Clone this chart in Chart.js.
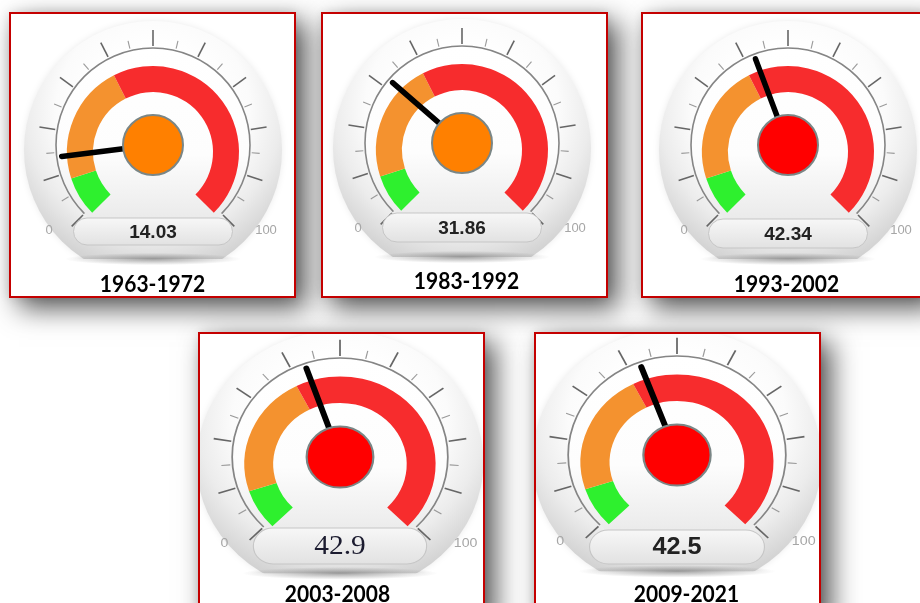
<!DOCTYPE html>
<html><head><meta charset="utf-8">
<script src="https://cdn.jsdelivr.net/npm/chart.js@4.4.1/dist/chart.umd.min.js"></script>
<style>
html,body{margin:0;padding:0;background:#fff;}
body{width:920px;height:603px;overflow:hidden;position:relative;}
.box{position:absolute;width:287px;height:286px;box-sizing:border-box;border:2px solid #c40000;background:#fff;
 box-shadow:10px 10px 26px rgba(0,0,0,0.68), 0 0 10px rgba(0,0,0,0.10);}
.box canvas{position:absolute;left:0;top:0;}
.title{position:absolute;left:0;width:100%;text-align:center;font:700 21px Lato,'Open Sans',sans-serif;color:#000;line-height:1;transform:translateY(-50%) scaleY(1.08);white-space:nowrap;}
</style></head><body>
<script>
// ---- data ----
const periods = ['1963-1972', '1983-1992', '1993-2002', '2003-2008', '2009-2021'];
const values = [14.03, 31.86, 42.34, 42.9, 42.5];
const valueLabels = ['14.03', '31.86', '42.34', '42.9', '42.5'];
const bandEdges = [0, 10, 40, 100];
const bandColors = ['#2ef02e', '#f4922f', '#f72c2d'];
const hubColors = ['#22ee22', '#ff8000', '#ff0000'];
const tickValues = [0, 5, 10, 15, 20, 25, 30, 35, 40, 45, 50, 55, 60, 65, 70, 75, 80, 85, 90, 95, 100];
const scaleLabels = ['0', '100'];

// ---- layout (positions & styles) ----
const layout = [
  {left: 9,   top: 12,  px: 142, py: 131, k: 1,    sx: 1,    vb: [73, 100], font: 'bold 19px "Liberation Sans", Arial', tcol: '#222', ty: 269, tdx: 0},
  {left: 321, top: 12,  px: 139, py: 129, k: 1,    sx: 1,    vb: [70, 99],  font: 'bold 19px "Liberation Sans", Arial', tcol: '#222', ty: 266, tdx: 2},
  {left: 641, top: 12,  px: 145, py: 131, k: 1,    sx: 1,    vb: [74, 103], font: 'bold 19px "Liberation Sans", Arial', tcol: '#222', ty: 269, tdx: 2},
  {left: 198, top: 332, px: 140, py: 123, k: 1.02, sx: 1.09, vb: [71, 107], font: '27px "Liberation Serif", serif',    tcol: '#1c1c30', ty: 259, tdx: -4},
  {left: 534, top: 332, px: 141, py: 121, k: 1.02, sx: 1.1,  vb: [75, 109], font: 'bold 23px "Liberation Sans", Arial', tcol: '#222', ty: 259, tdx: 9}
];
const CW = 283, CH = 282;

function bandSizes() {
  const s = [];
  for (let i = 1; i < bandEdges.length; i++) s.push(bandEdges[i] - bandEdges[i - 1]);
  return s;
}
function zoneOf(v) {
  for (let i = 1; i < bandEdges.length; i++) if (v < bandEdges[i]) return i - 1;
  return bandEdges.length - 2;
}

function makePlugin(i) {
  const L = layout[i];
  const k = L.k;
  function geom(chart) {
    const arcs = chart.getDatasetMeta(0).data;
    const a0 = arcs[0], aN = arcs[arcs.length - 1];
    const min = bandEdges[0], max = bandEdges[bandEdges.length - 1];
    const start = a0.startAngle, end = aN.endAngle;
    return {
      cx: a0.x, cy: a0.y - 7 * k,
      ang: v => start + (v - min) / (max - min) * (end - start),
      start, end
    };
  }
  return {
    id: 'gauge' + i,
    beforeDraw(chart) {
      const ctx = chart.ctx;
      const g = geom(chart);
      ctx.save();
      ctx.translate(g.cx, 0); ctx.scale(L.sx, 1); ctx.translate(-g.cx, 0);
      // sphere background
      ctx.save();
      ctx.beginPath();
      ctx.rect(g.cx - 200, g.cy - 200, 400, 200 + 114 * k);
      ctx.clip();
      const grd = ctx.createRadialGradient(g.cx, g.cy - 35 * k, 60 * k, g.cx, g.cy - 35 * k, 165 * k);
      grd.addColorStop(0, '#ffffff');
      grd.addColorStop(0.35, '#fbfbfb');
      grd.addColorStop(0.65, '#ececec');
      grd.addColorStop(0.85, '#dcdcdc');
      grd.addColorStop(1, '#d0d0d0');
      ctx.fillStyle = grd;
      ctx.shadowColor = 'rgba(0,0,0,0.08)';
      ctx.shadowBlur = 6;
      ctx.beginPath();
      ctx.arc(g.cx, g.cy + 5 * k, 129 * k, 0, Math.PI * 2);
      ctx.fill();
      ctx.shadowColor = 'transparent';
      ctx.shadowBlur = 0;
      // inner face
      const lg = ctx.createLinearGradient(0, g.cy - 97 * k, 0, g.cy + 97 * k);
      lg.addColorStop(0, '#ffffff');
      lg.addColorStop(0.55, '#fdfdfd');
      lg.addColorStop(1, '#e4e4e4');
      ctx.fillStyle = lg;
      ctx.beginPath();
      ctx.arc(g.cx, g.cy, 97 * k, 0, Math.PI * 2);
      ctx.fill();
      ctx.restore();
      // bottom shadow rim
      const sg = ctx.createRadialGradient(g.cx, g.cy + 114 * k, 0, g.cx, g.cy + 114 * k, 88 * k);
      sg.addColorStop(0, 'rgba(100,100,100,0.6)');
      sg.addColorStop(1, 'rgba(110,110,110,0)');
      ctx.save();
      ctx.translate(g.cx, g.cy + 114 * k);
      ctx.scale(1, 0.07);
      ctx.translate(-g.cx, -(g.cy + 114 * k));
      ctx.fillStyle = sg;
      ctx.beginPath();
      ctx.arc(g.cx, g.cy + 114 * k, 88 * k, 0, Math.PI * 2);
      ctx.fill();
      ctx.restore();
    },
    afterDatasetsDraw(chart) {
      const ctx = chart.ctx;
      const g = geom(chart);
      // ring
      ctx.strokeStyle = '#858585';
      ctx.lineWidth = 1.6;
      ctx.beginPath();
      ctx.arc(g.cx, g.cy, 97 * k, g.start, g.end);
      ctx.stroke();
      // ticks
      tickValues.forEach(v => {
        const a = g.ang(v);
        const major = v % 10 === 0;
        const r1 = 99 * k, r2 = (major ? 115 : 107) * k;
        ctx.lineWidth = major ? 1.6 : 1.1;
        ctx.strokeStyle = major ? '#666666' : '#9a9a9a';
        ctx.beginPath();
        ctx.moveTo(g.cx + r1 * Math.cos(a), g.cy + r1 * Math.sin(a));
        ctx.lineTo(g.cx + r2 * Math.cos(a), g.cy + r2 * Math.sin(a));
        ctx.stroke();
      });
      // scale labels
      ctx.fillStyle = '#a6a6a6';
      ctx.font = '13px "Liberation Sans", Arial';
      ctx.textAlign = 'center';
      ctx.textBaseline = 'middle';
      ctx.fillText(scaleLabels[0], g.cx - 104 * k, g.cy + 85 * k);
      ctx.fillText(scaleLabels[1], g.cx + 113 * k, g.cy + 85 * k);
      // value box
      const x0 = g.cx - 79.5, y0 = g.cy + L.vb[0], w = 159, h = L.vb[1] - L.vb[0];
      const bg = ctx.createLinearGradient(0, y0, 0, y0 + h);
      bg.addColorStop(0, '#f7f7f7');
      bg.addColorStop(1, '#e2e2e2');
      ctx.fillStyle = bg;
      ctx.strokeStyle = '#c6c6c6';
      ctx.lineWidth = 1;
      ctx.beginPath();
      ctx.roundRect(x0, y0, w, h, h / 2);
      ctx.fill();
      ctx.stroke();
      ctx.fillStyle = L.tcol;
      ctx.font = L.font;
      ctx.fillText(valueLabels[i], g.cx, y0 + h / 2 + 1);
      // needle
      const a = g.ang(values[i]);
      ctx.strokeStyle = '#000';
      ctx.lineWidth = 5.5;
      ctx.lineCap = 'round';
      ctx.beginPath();
      ctx.moveTo(g.cx + 26 * k * Math.cos(a), g.cy + 26 * k * Math.sin(a));
      ctx.lineTo(g.cx + 92 * k * Math.cos(a), g.cy + 92 * k * Math.sin(a));
      ctx.stroke();
      // hub
      ctx.fillStyle = hubColors[zoneOf(values[i])];
      ctx.strokeStyle = '#7a8686';
      ctx.lineWidth = 2;
      ctx.beginPath();
      ctx.arc(g.cx, g.cy, 30 * k, 0, Math.PI * 2);
      ctx.fill();
      ctx.stroke();
    },
    afterDraw(chart) {
      chart.ctx.restore();
    }
  };
}

periods.forEach((p, i) => {
  const L = layout[i];
  const box = document.createElement('div');
  box.className = 'box';
  box.style.left = L.left + 'px';
  box.style.top = L.top + 'px';
  const cv = document.createElement('canvas');
  cv.width = CW; cv.height = CH;
  cv.style.width = CW + 'px'; cv.style.height = CH + 'px';
  box.appendChild(cv);
  const t = document.createElement('div');
  t.className = 'title';
  t.style.top = L.ty + 'px';
  t.style.left = L.tdx + 'px';
  t.textContent = p;
  box.appendChild(t);
  document.body.appendChild(box);

  const R = 86 * L.k;
  const ax = L.px, ay = L.py + 7 * L.k;
  const cyMid = ay - 0.146447 * R;
  new Chart(cv, {
    type: 'doughnut',
    data: {
      labels: ['low', 'medium', 'high'],
      datasets: [{data: bandSizes(), backgroundColor: bandColors, borderWidth: 0, clip: false}]
    },
    plugins: [makePlugin(i)],
    options: {
      responsive: false,
      animation: false,
      devicePixelRatio: 1,
      events: [],
      rotation: -135,
      circumference: 270,
      radius: R,
      cutout: '69.8%',
      layout: {padding: {left: ax - 40, right: CW - ax - 40, top: cyMid - 40, bottom: CH - cyMid - 40}},
      plugins: {legend: {display: false}, tooltip: {enabled: false}, title: {display: false}}
    }
  });
});
</script>
</body></html>
